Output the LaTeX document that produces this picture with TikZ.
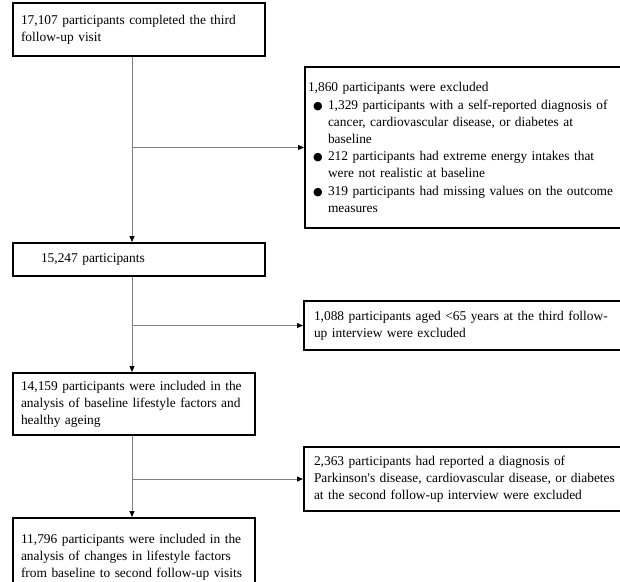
\documentclass[tikz,border=0pt]{standalone}
\usepackage{fontspec}
\setmainfont{Liberation Serif}
\newfontfamily\symfont{DejaVu Sans}
\usetikzlibrary{arrows.meta,positioning}
\newcommand{\blt}{\makebox[20pt][c]{\symfont\fontsize{11}{11}\selectfont ●}}
\newcommand{\ind}{\hspace*{20pt}}

\begin{document}
\begin{tikzpicture}[x=1pt,y=-1pt]
      \useasboundingbox (0,0) rectangle (620,581);
      \clip (0,0) rectangle (620,581);
      \begin{scope}[every node/.style={draw,line width=2pt,anchor=north west,align=left,
        font=\fontsize{13.4}{17.2}\selectfont,inner ysep=3pt}]
        \node (S1)[inner xsep=8pt,text width=236pt,minimum height=53pt] at (12,2)
          {\mbox{17,107 participants completed the third}\\\mbox{follow-up visit}};
        \node (E1)[inner xsep=3pt,text width=330pt,minimum height=161pt] at (304,66)
          {\mbox{1,860 participants were excluded}\\
           \mbox{\blt 1,329 participants with a self-reported diagnosis of}\\
           \mbox{\ind cancer, cardiovascular disease, or diabetes at}\\
           \mbox{\ind baseline}\\
           \mbox{\blt 212 participants had extreme energy intakes that}\\
           \mbox{\ind were not realistic at baseline}\\
           \mbox{\blt 319 participants had missing values on the outcome}\\
           \mbox{\ind measures}};
        \node (S2)[inner xsep=8pt,text width=236pt,minimum height=33pt] at (12,242)
          {\ind 15,247 participants};
        \node (E2)[inner xsep=10pt,text width=317pt,minimum height=49pt] at (303,300)
          {\mbox{1,088 participants aged <65 years at the third follow-}\\\mbox{up interview were excluded}};
        \node (S3)[inner xsep=8pt,text width=226pt,minimum height=62pt] at (12,372)
          {\mbox{14,159 participants were included in the}\\\mbox{analysis of baseline lifestyle factors and}\\\mbox{healthy ageing}};
        \node (E3)[inner xsep=10pt,text width=317pt,minimum height=64pt] at (303,446)
          {\mbox{2,363 participants had reported a diagnosis of}\\
           \mbox{Parkinson\textquotesingle s disease, cardiovascular disease, or diabetes}\\
           \mbox{at the second follow-up interview were excluded}};
        \node (S4)[inner xsep=8pt,text width=226pt,minimum height=78pt] at (12,517)
          {\mbox{11,796 participants were included in the}\\\mbox{analysis of changes in lifestyle factors}\\\mbox{from baseline to second follow-up visits}};
      \end{scope}
      \coordinate (spine) at (132,0);
      \begin{scope}
        [every edge/.style={draw=black!50,line width=1pt,-{Triangle[length=6pt,width=5pt,color=black]}}]
        \path (spine |- S1.south) edge (spine |- S2.north);
        \path (spine |- E1.west) edge (E1.west);
        \path (spine |- S2.south) edge (spine |- S3.north);
        \path (spine |- E2.west) edge (E2.west);
        \path (spine |- S3.south) edge (spine |- S4.north);
        \path (spine |- E3.west) edge (E3.west);
      \end{scope}
    \end{tikzpicture}
\end{document}
